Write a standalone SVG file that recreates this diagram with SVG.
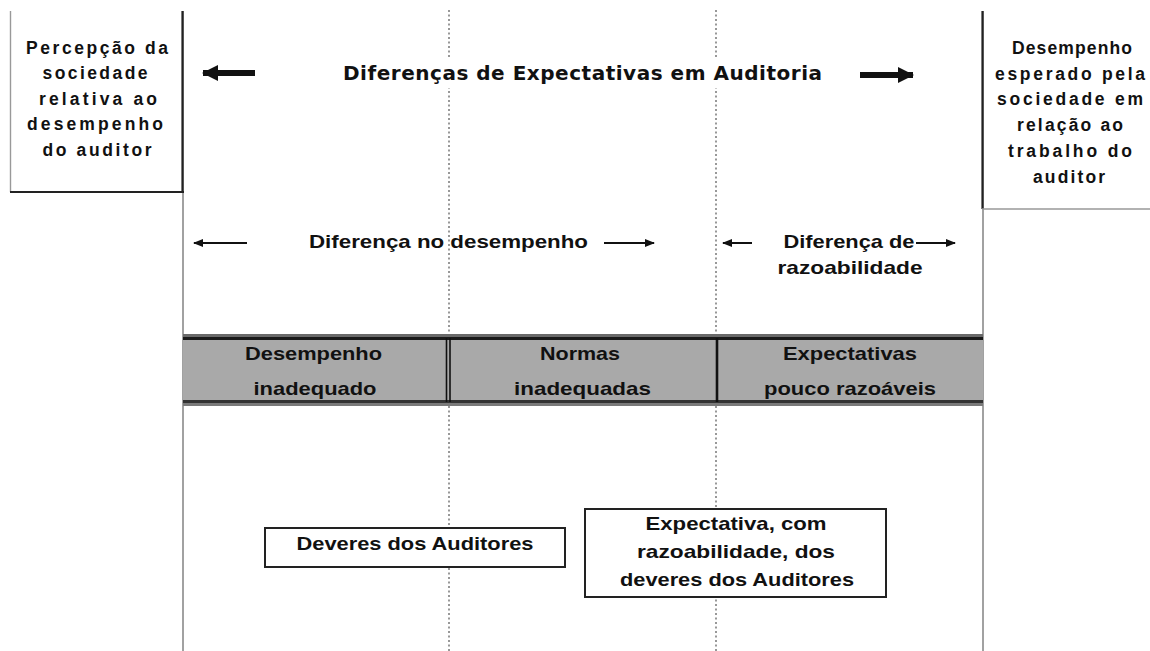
<svg xmlns="http://www.w3.org/2000/svg" width="1150" height="651" viewBox="0 0 1150 651">
<style>
.box{font-family:"Liberation Sans",Arial,sans-serif;font-weight:bold;font-size:17.5px;fill:#111;text-anchor:middle}
.title{font-family:"DejaVu Sans",Verdana,sans-serif;font-weight:bold;font-size:20px;fill:#111}
.nar{font-family:"Liberation Sans Narrow","Liberation Sans",Arial,sans-serif;font-weight:bold;font-size:19px;fill:#111;text-anchor:middle}
.vline{stroke:#8a8a8a;stroke-width:1.6;fill:none}
.dot{stroke:#777;stroke-width:1.5;stroke-dasharray:2 2.5;fill:none}
.edge{stroke:#222;stroke-width:2.2;fill:none}
.thin{stroke:#999;stroke-width:1.4;fill:none}
.arr{stroke:#111;stroke-width:2;fill:none}
.tarr{stroke:#111;stroke-width:6;fill:none}
</style>
<defs>
<marker id="ah" markerWidth="10" markerHeight="8" refX="9" refY="4" orient="auto" markerUnits="userSpaceOnUse">
<path d="M0,0 L10,4 L0,8 Z" fill="#111"/>
</marker>
<marker id="ahb" markerWidth="16" markerHeight="16" refX="15" refY="8" orient="auto" markerUnits="userSpaceOnUse">
<path d="M0,0 L16,8 L0,16 Z" fill="#111"/>
</marker>
</defs>
<rect x="0" y="0" width="1150" height="651" fill="#fff"/>

<g id="frame">
<line class="vline" x1="183" y1="11" x2="183" y2="651"/>
<line class="vline" x1="983" y1="11" x2="983" y2="651"/>
<line class="dot" x1="449" y1="10" x2="449" y2="651"/>
<line class="dot" x1="716" y1="10" x2="716" y2="651"/>
</g>

<g id="left-box">
<line class="thin" x1="10.5" y1="11" x2="10.5" y2="192"/>
<line class="edge" x1="182.5" y1="11" x2="182.5" y2="193"/>
<line class="edge" x1="10" y1="192" x2="184" y2="192"/>
<text class="box" x="97" y="54" textLength="142" lengthAdjust="spacing">Percepção da</text>
<text class="box" x="95" y="79" textLength="105" lengthAdjust="spacing">sociedade</text>
<text class="box" x="98" y="105" textLength="118" lengthAdjust="spacing">relativa ao</text>
<text class="box" x="95" y="130" textLength="136" lengthAdjust="spacing">desempenho</text>
<text class="box" x="97" y="156" textLength="109" lengthAdjust="spacing">do auditor</text>
</g>

<g id="right-box">
<line class="edge" x1="982.5" y1="11" x2="982.5" y2="209"/>
<line class="thin" x1="982" y1="209" x2="1150" y2="209"/>
<text class="box" x="1072" y="54" textLength="120" lengthAdjust="spacing">Desempenho</text>
<text class="box" x="1070" y="80" textLength="150" lengthAdjust="spacing">esperado pela</text>
<text class="box" x="1070" y="105" textLength="146" lengthAdjust="spacing">sociedade em</text>
<text class="box" x="1070" y="131" textLength="106" lengthAdjust="spacing">relação ao</text>
<text class="box" x="1070" y="157" textLength="124" lengthAdjust="spacing">trabalho do</text>
<text class="box" x="1069" y="183" textLength="72" lengthAdjust="spacing">auditor</text>
</g>

<g id="title">
<rect x="338" y="57" width="490" height="31" fill="#fff"/>
<text class="title" x="343" y="80" textLength="479" lengthAdjust="spacing">Diferenças de Expectativas em Auditoria</text>
</g>

<g id="gap-labels">
<text class="nar" x="448.5" y="248" textLength="279" lengthAdjust="spacingAndGlyphs">Diferença no desempenho</text>
<text class="nar" x="849" y="248" textLength="131" lengthAdjust="spacingAndGlyphs">Diferença de</text>
<text class="nar" x="850" y="274" textLength="145" lengthAdjust="spacingAndGlyphs">razoabilidade</text>
</g>

<g id="band">
<rect x="183" y="334" width="800" height="72" fill="#a9a9a9"/>
<rect x="183" y="334" width="800" height="3" fill="#6a6a6a"/>
<rect x="183" y="337" width="800" height="3" fill="#1a1a1a"/>
<rect x="183" y="400" width="800" height="3" fill="#333"/>
<rect x="183" y="403" width="800" height="3" fill="#7a7a7a"/>
<line x1="446.5" y1="338" x2="446.5" y2="402" stroke="#111" stroke-width="1.6"/>
<line x1="450" y1="338" x2="450" y2="402" stroke="#111" stroke-width="1.6"/>
<line x1="717" y1="338" x2="717" y2="402" stroke="#111" stroke-width="2.6"/>
</g>
<g id="band-desempenho">
<text class="nar" x="313.5" y="360" textLength="137" lengthAdjust="spacingAndGlyphs">Desempenho</text>
<text class="nar" x="315" y="395" textLength="123" lengthAdjust="spacingAndGlyphs">inadequado</text>
</g>
<g id="band-normas">
<text class="nar" x="580" y="360" textLength="80" lengthAdjust="spacingAndGlyphs">Normas</text>
<text class="nar" x="582.5" y="395" textLength="137" lengthAdjust="spacingAndGlyphs">inadequadas</text>
</g>
<g id="band-expectativas">
<text class="nar" x="850" y="360" textLength="134" lengthAdjust="spacingAndGlyphs">Expectativas</text>
<text class="nar" x="850" y="395" textLength="172" lengthAdjust="spacingAndGlyphs">pouco razoáveis</text>
</g>

<g id="deveres">
<rect x="265" y="528" width="300" height="39" fill="#fff" stroke="#222" stroke-width="2"/>
<text class="nar" x="415" y="550" textLength="237" lengthAdjust="spacingAndGlyphs">Deveres dos Auditores</text>
</g>
<g id="expectativa">
<rect x="585" y="509" width="301" height="88" fill="#fff" stroke="#222" stroke-width="2"/>
<text class="nar" x="736" y="530" textLength="181" lengthAdjust="spacingAndGlyphs">Expectativa, com</text>
<text class="nar" x="736" y="558" textLength="198" lengthAdjust="spacingAndGlyphs">razoabilidade, dos</text>
<text class="nar" x="737" y="586" textLength="234" lengthAdjust="spacingAndGlyphs">deveres dos Auditores</text>
</g>

<g id="connectors">
<line class="tarr" x1="255" y1="73" x2="203" y2="73" marker-end="url(#ahb)"/>
<line class="tarr" x1="860" y1="75" x2="913" y2="75" marker-end="url(#ahb)"/>
<line class="arr" x1="247" y1="243" x2="194" y2="243" marker-end="url(#ah)"/>
<line class="arr" x1="604" y1="243" x2="654" y2="243" marker-end="url(#ah)"/>
<line class="arr" x1="752" y1="243" x2="723" y2="243" marker-end="url(#ah)"/>
<line class="arr" x1="916" y1="243" x2="955" y2="243" marker-end="url(#ah)"/>
</g>
</svg>
